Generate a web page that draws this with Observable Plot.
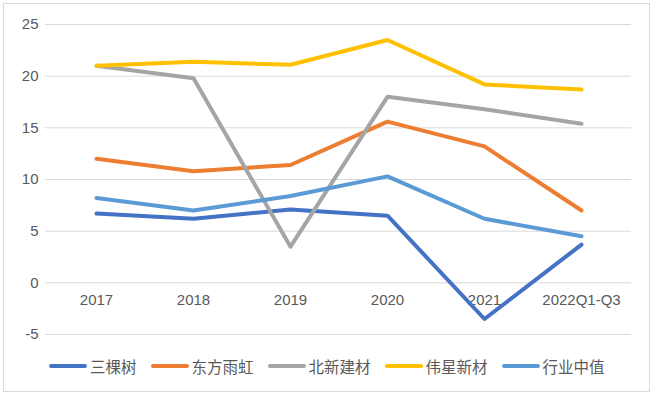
<!DOCTYPE html>
<html><head><meta charset="utf-8">
<script src="https://cdn.jsdelivr.net/npm/d3@7"></script>
<script src="https://cdn.jsdelivr.net/npm/@observablehq/plot@0.6"></script>
<style>
body{margin:0;background:#fff;font-family:"Liberation Sans","Noto Sans CJK SC",sans-serif;}
#box{position:absolute;left:3px;top:3px;width:645px;height:387px;border:1px solid #d9d9d9;background:#fff;}
#legend{display:flex;align-items:center;position:absolute;left:45px;top:351px;font-family:"Noto Sans CJK SC",sans-serif;font-size:15.5px;color:#595959;}
.item{display:flex;align-items:center;margin-right:14px;}
.sw{width:38px;height:4px;border-radius:2px;margin-right:3px;}
</style></head>
<body><div id="box"><div id="chart"></div><div id="legend"></div></div>
<script>
const years = ["2017","2018","2019","2020","2021","2022Q1-Q3"];
const seriesNames = ["三棵树","东方雨虹","北新建材","伟星新材","行业中值"];
const colors = ["#4472C4","#ED7D31","#A5A5A5","#FFC000","#5B9BD5"];
const sankeshu = [6.7, 6.2, 7.1, 6.5, -3.5, 3.7];
const dongfang = [12.0, 10.8, 11.4, 15.6, 13.2, 7.0];
const beixin = [21.0, 19.8, 3.5, 18.0, 16.8, 15.4];
const weixing = [21.0, 21.4, 21.1, 23.5, 19.2, 18.7];
const median = [8.2, 7.0, 8.4, 10.3, 6.2, 4.5];
const yTicks = [-5, 0, 5, 10, 15, 20, 25];

const valuesList = [sankeshu, dongfang, beixin, weixing, median];
const data = [];
seriesNames.forEach((s, i) => valuesList[i].forEach((v, j) => data.push({series: s, year: years[j], value: v})));

const chart = Plot.plot({
  width: 645, height: 346,
  marginLeft: 41, marginRight: 18, marginTop: 20, marginBottom: 16,
  style: {fontFamily: '"Liberation Sans","Noto Sans CJK SC",sans-serif', fontSize: "15px", color: "#595959", background: "transparent"},
  x: {type: "point", domain: years, padding: 0.5, axis: null},
  y: {domain: [-5, 25], axis: null},
  color: {domain: seriesNames, range: colors},
  marks: [
    Plot.gridY(yTicks, {stroke: "#d9d9d9", strokeOpacity: 1, strokeWidth: 1}),
    Plot.axisY(yTicks, {tickSize: 0, tickPadding: 7, label: null, fill: "#595959", fontSize: 15, tickFormat: d => String(d)}),
    Plot.text(years, {x: d => d, y: () => 0, dy: 17, fill: "#595959", fontSize: 15}),
    Plot.line(data, {x: "year", y: "value", z: "series", stroke: "series", strokeWidth: 4, strokeLinejoin: "round", strokeLinecap: "round"})
  ]
});
document.getElementById("chart").appendChild(chart);

const legend = document.getElementById("legend");
seriesNames.forEach((s, i) => {
  const it = document.createElement("div"); it.className = "item";
  const sw = document.createElement("div"); sw.className = "sw"; sw.style.background = colors[i];
  const t = document.createElement("span"); t.textContent = s;
  it.appendChild(sw); it.appendChild(t); legend.appendChild(it);
});
</script></body></html>
